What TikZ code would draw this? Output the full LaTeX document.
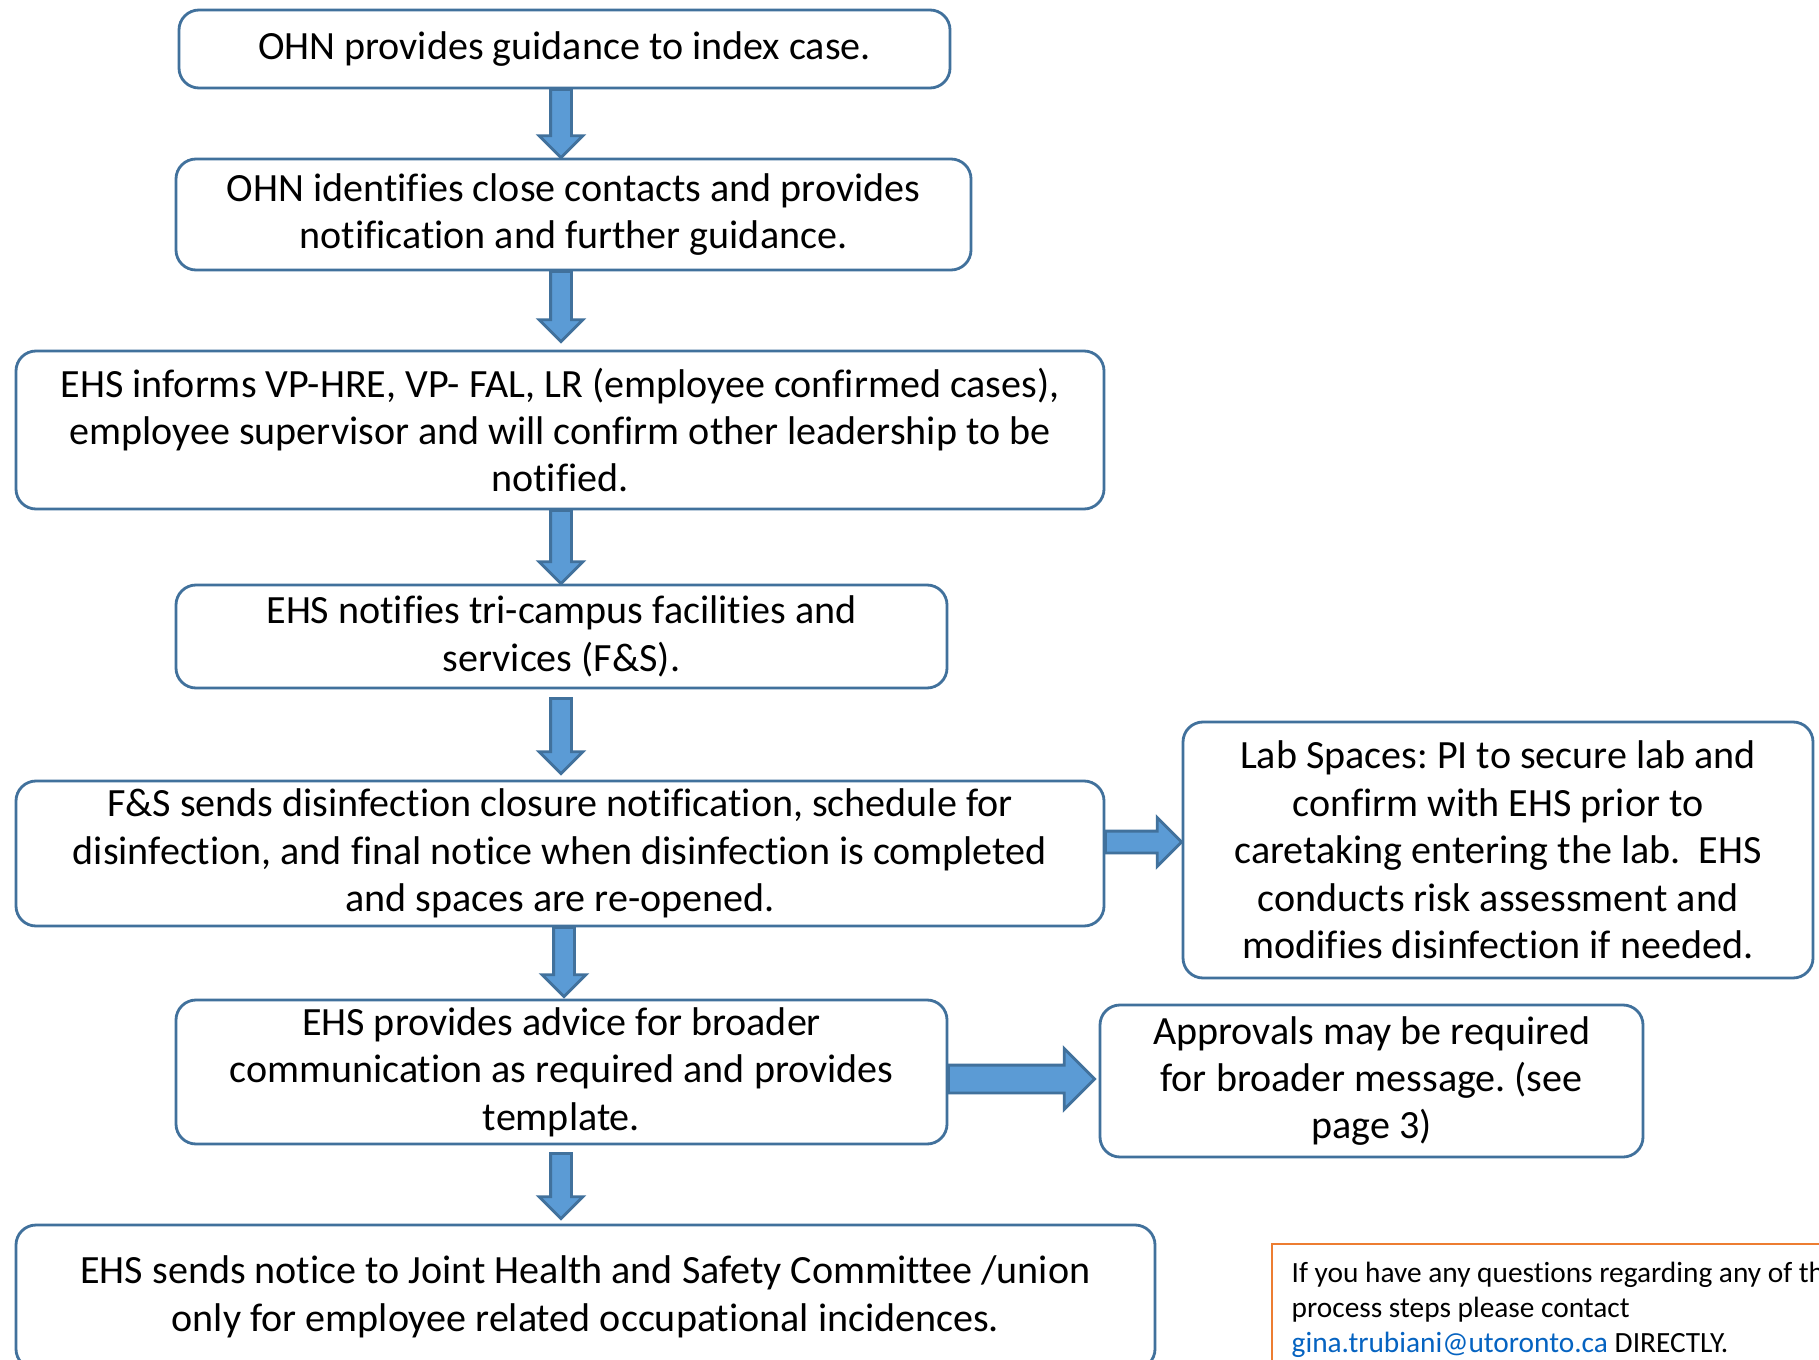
\documentclass[tikz,border=0pt]{standalone}
\usepackage{fontspec}
\setmainfont{Carlito}[Ligatures=NoCommon]
\usetikzlibrary{calc,shapes.arrows}
\definecolor{boxline}{HTML}{41719C}
\definecolor{arrfill}{HTML}{5B9BD5}
\definecolor{noteline}{HTML}{ED7D31}
\definecolor{linkblue}{HTML}{0563C1}
\frenchspacing
% block arrow between two points
\newcommand{\blockarr}[3][]{%
  \path let \p1=#2, \p2=#3, \n1={veclen(\x2-\x1,\y2-\y1)}, \n2={atan2(\y2-\y1,\x2-\x1)} in
    node[fatarrow, #1, minimum height=\n1, rotate=\n2, anchor=tail] at (\p1) {};}
\begin{document}
\begin{tikzpicture}[x=1cm, y=-1cm,
  every node/.style={font=\fontsize{11.4}{13.5}\selectfont},
  stepbox/.style={draw=boxline, line width=0.8pt, rounded corners=0.2cm, align=center, inner sep=0pt},
  fatarrow/.style={single arrow, draw=boxline, fill=arrfill, line width=0.8pt, inner xsep=0pt, inner ysep=0.09cm,
    single arrow head extend=0.115cm, single arrow head indent=0pt, minimum width=0pt, outer sep=0pt}]
\path[fill=white, use as bounding box] (0,0) rectangle (18.19,13.60);
\coordinate (spine) at (5.61,0);
\node[stepbox, minimum width=7.71cm, minimum height=0.78cm] (ohn) at (5.645,0.49) {OHN provides guidance to index case.};
\node[stepbox, minimum width=7.95cm, minimum height=1.11cm] (ident) at (5.735,2.145) {OHN identifies close contacts and provides\\notification and further guidance.};
\node[stepbox, minimum width=10.88cm, minimum height=1.58cm] (ehs) at (5.60,4.30) {EHS informs VP-HRE, VP- FAL, LR (employee confirmed cases),\\employee supervisor and will confirm other leadership to be\\notified.};
\node[stepbox, minimum width=7.71cm, minimum height=1.03cm] (fsnote) at (5.615,6.365) {EHS notifies tri-campus facilities and\\services (F\&S).};
\node[stepbox, minimum width=10.88cm, minimum height=1.45cm] (fs) at (5.60,8.535) {F\&S sends disinfection closure notification, schedule for\\disinfection, and final notice when disinfection is completed\\and spaces are re-opened.};
\node[stepbox, minimum width=7.71cm, minimum height=1.44cm] (advice) at (5.615,10.72) {EHS provides advice for broader\\communication as required and provides\\template.};
\node[stepbox, minimum width=11.39cm, minimum height=1.44cm] (jhsc) at (5.855,12.97) {EHS sends notice to Joint Health and Safety Committee /union\\only for employee related occupational incidences.};
\node[stepbox, minimum width=6.30cm, minimum height=2.56cm] (lab) at (14.98,8.50) {Lab Spaces: PI to secure lab and\\confirm with EHS prior to\\caretaking entering the lab.\ \ EHS\\conducts risk assessment and\\modifies disinfection if needed.};
\node[stepbox, minimum width=5.43cm, minimum height=1.52cm] (approve) at (13.715,10.81) {Approvals may be required\\for broader message. (see\\page 3)};
\draw[noteline, line width=0.5pt] (12.72,12.44) rectangle (18.6,14.2);
\node[anchor=north west, align=left, inner sep=0pt, font=\fontsize{8.35}{10}\selectfont] (contact) at (12.91,12.61)
  {If you have any questions regarding any of the\\process steps please contact\\\textcolor{linkblue}{\underline{gina.trubiani@utoronto.ca}} DIRECTLY.};
\coordinate (labarr) at ([yshift=0.115cm]fs.east);
\coordinate (msgarr) at ([yshift=-0.07cm]advice.east);
\blockarr{(ohn.south -| spine)}{(ident.north -| spine)}
\blockarr{(ident.south -| spine)}{($(ehs.north -| spine)+(0,-0.08)$)}
\blockarr{(ehs.south -| spine)}{(fsnote.north -| spine)}
\blockarr{($(fsnote.south -| spine)+(0,0.09)$)}{($(fs.north -| spine)+(0,-0.06)$)}
\blockarr{($(fs.south -| spine)+(0.03,0)$)}{($(advice.north -| spine)+(0.03,-0.02)$)}
\blockarr{($(advice.south -| spine)+(0,0.08)$)}{($(jhsc.north -| spine)+(0,-0.05)$)}
\blockarr[inner ysep=0.095cm, single arrow head extend=0.135cm]{(labarr)}{(lab.west |- labarr)}
\blockarr[inner ysep=0.125cm, single arrow head extend=0.165cm]{(msgarr)}{($(approve.west |- msgarr)+(-0.04,0)$)}
\end{tikzpicture}
\end{document}
